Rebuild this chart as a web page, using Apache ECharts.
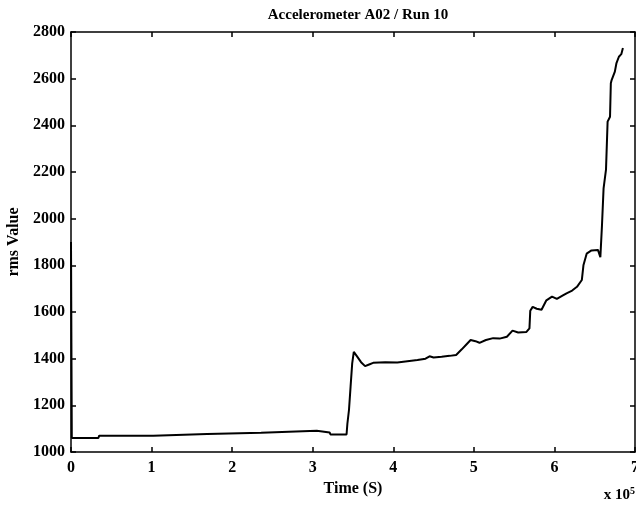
<!DOCTYPE html>
<html>
<head>
<meta charset="utf-8">
<script src="https://cdn.jsdelivr.net/npm/echarts@6/dist/echarts.min.js"></script>
<style>
  html, body { margin: 0; padding: 0; background: #fff; }
  #chart { width: 636px; height: 509px; }
</style>
</head>
<body>
<div id="chart"></div>
<script>
// time in units of 1e5 s
const timeVals = [
  0, 0.01, 0.34, 0.35, 1.02, 1.03, 1.69, 1.70, 2.36, 2.37,
  3.05, 3.06, 3.21, 3.22, 3.42, 3.43, 3.45, 3.47, 3.49, 3.51,
  3.55, 3.60, 3.65, 3.70, 3.75, 3.90, 4.05, 4.15, 4.30, 4.40,
  4.45, 4.50, 4.60, 4.70, 4.78, 4.85, 4.91, 4.96, 5.02, 5.07,
  5.15, 5.24, 5.32, 5.41, 5.48, 5.55, 5.65, 5.69, 5.70, 5.73,
  5.78, 5.84, 5.90, 5.97, 6.03, 6.10, 6.15, 6.22, 6.28, 6.34,
  6.36, 6.40, 6.46, 6.54, 6.57, 6.59, 6.61, 6.64, 6.66, 6.69,
  6.70, 6.71, 6.75, 6.77, 6.80, 6.83, 6.85
];
const rmsVals = [
  1900, 1060, 1060, 1070, 1070, 1077, 1077, 1083, 1083, 1091,
  1091, 1084, 1084, 1075, 1075, 1120, 1180, 1280, 1380, 1429,
  1410, 1385, 1368, 1375, 1382, 1385, 1384, 1388, 1394, 1400,
  1410, 1405, 1408, 1412, 1416, 1440, 1462, 1480, 1475, 1468,
  1480, 1488, 1486, 1494, 1520, 1512, 1514, 1530, 1605, 1622,
  1614, 1610, 1650, 1666, 1656, 1670, 1680, 1692, 1708, 1737,
  1800, 1850, 1864, 1866, 1835, 1970, 2130, 2210, 2416, 2437,
  2580, 2594, 2630, 2667, 2694, 2705, 2731
];
const xTicks = [0, 1, 2, 3, 4, 5, 6, 7];
const yTicks = [1000, 1200, 1400, 1600, 1800, 2000, 2200, 2400, 2600, 2800];

const font = "Liberation Serif";
const chart = echarts.init(document.getElementById("chart"));

const axisLine = { show: true, onZero: false, lineStyle: { color: "#000", width: 1.5 } };
const axisTick = { show: true, inside: true, length: 5, lineStyle: { color: "#000", width: 1.5 } };
const labelStyle = { color: "#000", fontFamily: font, fontSize: 16, fontWeight: "bold" };

chart.setOption({
  animation: false,
  backgroundColor: "#fff",
  title: {
    text: "Accelerometer A02 / Run 10",
    left: 353,
    top: 3,
    textAlign: "center",
    textStyle: { color: "#000", fontFamily: font, fontSize: 15, fontWeight: "bold" },
  },
  grid: { left: 71, right: 1, top: 32, bottom: 57, outerBoundsMode: "none", containLabel: false },
  xAxis: [
    {
      type: "value",
      min: xTicks[0],
      max: xTicks[xTicks.length - 1],
      interval: 1,
      name: "Time (S)",
      nameLocation: "middle",
      nameGap: 25,
      nameTextStyle: labelStyle,
      axisLine,
      axisTick,
      axisLabel: Object.assign({ margin: 8, formatter: (v) => String(v) }, labelStyle),
      splitLine: { show: false },
    },
    {
      type: "value",
      position: "top",
      min: xTicks[0],
      max: xTicks[xTicks.length - 1],
      interval: 1,
      axisLine,
      axisTick,
      axisLabel: { show: false },
      splitLine: { show: false },
    },
  ],
  yAxis: [
    {
      type: "value",
      min: yTicks[0],
      max: yTicks[yTicks.length - 1],
      interval: 200,
      name: "rms Value",
      nameLocation: "middle",
      nameGap: 42,
      nameRotate: 90,
      nameTextStyle: labelStyle,
      axisLine,
      axisTick,
      axisLabel: Object.assign({ margin: 6, formatter: (v) => String(v) }, labelStyle),
      splitLine: { show: false },
    },
    {
      type: "value",
      position: "right",
      min: yTicks[0],
      max: yTicks[yTicks.length - 1],
      interval: 200,
      axisLine,
      axisTick,
      axisLabel: { show: false },
      splitLine: { show: false },
    },
  ],
  graphic: [
    {
      type: "text",
      right: 1,
      top: 486,
      style: {
        text: "x 10{s|5}",
        fill: "#000",
        font: "bold 15px " + font,
        rich: { s: { fontSize: 10, fontFamily: font, fontWeight: "bold", verticalAlign: "top", padding: [0, 0, 8, 0] } },
      },
    },
  ],
  series: [
    {
      type: "line",
      data: timeVals.map((t, i) => [t, rmsVals[i]]),
      showSymbol: false,
      lineStyle: { color: "#000", width: 2 },
    },
  ],
});
</script>
</body>
</html>
